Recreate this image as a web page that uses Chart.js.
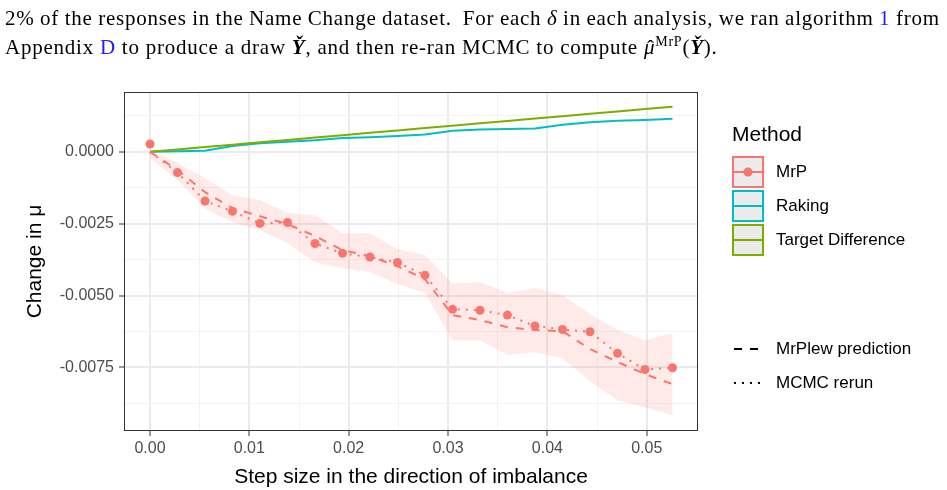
<!DOCTYPE html>
<html>
<head>
<meta charset="utf-8">
<script src="https://cdn.jsdelivr.net/npm/chart.js@4.4.1/dist/chart.umd.min.js"></script>
<style>
  html, body { margin: 0; padding: 0; background: #fff; }
  #wrap { position: relative; width: 947px; height: 490px; overflow: hidden; }
  #chart { position: absolute; left: 0; top: 0; }
  .txt { position: absolute; left: 5px; font-family: "Liberation Serif", serif; font-size: 21px; line-height: 24px; color: #000; white-space: nowrap; }
  .txt sup { font-size: 14px; vertical-align: 8px; line-height: 0; }
  .hat { position: relative; display: inline-block; }
  .hatmark { position: absolute; left: 3px; top: 1px; font-style: normal; }
  .blue { color: #2020ff; }
  .leg { position: absolute; font-family: "Liberation Sans", Arial, sans-serif; color: #000; white-space: nowrap; }
  .legtitle { font-size: 21px; line-height: 24px; }
  .leglabel { font-size: 17px; line-height: 20px; }
  .leg svg { display: block; }
</style>
</head>
<body>
<div id="wrap">
  <canvas id="chart" width="947" height="490"></canvas>
  <div id="l1" class="txt" style="top:6px">2% of the responses in the Name Change dataset.&nbsp; For each <i>δ</i> in each analysis, we ran algorithm <span class="blue">1</span> from</div>
  <div id="l2" class="txt" style="top:35px">Appendix <span class="blue">D</span> to produce a draw <b><i>Y̌</i></b>, and then re-ran MCMC to compute <span class="hat"><i>μ</i><span class="hatmark">ˆ</span></span><sup>MrP</sup>(<b><i>Y̌</i></b>).</div>
  <div id="legend"></div>
</div>
<script>
// step sizes (x) and series values
const stepSize = [0, 0.00277, 0.00554, 0.0083, 0.01107, 0.01384, 0.01661, 0.01938, 0.02214, 0.02491,
                  0.02768, 0.03045, 0.03322, 0.03598, 0.03875, 0.04152, 0.04429, 0.04706, 0.04982, 0.05259];
const mrpPoints = [0.00027, -0.00072, -0.00171, -0.00207, -0.00249, -0.00246, -0.00319, -0.00353, -0.00366, -0.00385,
                   -0.00429, -0.00548, -0.00551, -0.00568, -0.00606, -0.00618, -0.00626, -0.00701, -0.00757, -0.00751];
const mcmcRerun = [0, -0.00072, -0.00171, -0.00207, -0.00249, -0.00246, -0.00319, -0.00353, -0.00366, -0.00385,
                   -0.00429, -0.00548, -0.00551, -0.00568, -0.00606, -0.00618, -0.00626, -0.00701, -0.00757, -0.00751];
const mrplewPrediction = [0, -0.00064, -0.0014, -0.00196, -0.00224, -0.00251, -0.00293, -0.00342, -0.00363, -0.00398,
                          -0.00443, -0.00568, -0.00585, -0.0061, -0.0062, -0.00624, -0.00686, -0.00731, -0.00773, -0.00808];
const bandUpper = [0.00006, -0.00039, -0.00091, -0.00151, -0.00168, -0.00213, -0.0022, -0.00283, -0.00283, -0.00338,
                   -0.00359, -0.00457, -0.00453, -0.00491, -0.00474, -0.00498, -0.00565, -0.0062, -0.00655, -0.00631];
const bandLower = [-0.00022, -0.00098, -0.00196, -0.00245, -0.00272, -0.00318, -0.00384, -0.00405, -0.00418, -0.0046,
                   -0.00491, -0.00655, -0.00655, -0.00707, -0.00697, -0.00718, -0.00798, -0.00864, -0.00888, -0.00916];
const raking = [0, 0.00002, 0.00004, 0.0002, 0.0003, 0.00035, 0.0004, 0.00048, 0.00051, 0.00055,
                0.0006, 0.00073, 0.00078, 0.00079, 0.00081, 0.00094, 0.00103, 0.00108, 0.00111, 0.00115];
const targetDifference = [0, 0.000083, 0.000165, 0.000248, 0.00033, 0.000413, 0.000496, 0.000578, 0.000661, 0.000744,
                          0.000826, 0.000909, 0.000992, 0.001074, 0.001157, 0.00124, 0.001322, 0.001405, 0.001488, 0.00157];

const xMajorTicks = [0, 0.01, 0.02, 0.03, 0.04, 0.05];
const xTickLabels = ['0.00', '0.01', '0.02', '0.03', '0.04', '0.05'];
const xMinorTicks = [0.005, 0.015, 0.025, 0.035, 0.045];
const yMajorTicks = [0, -0.0025, -0.005, -0.0075];
const yTickLabels = ['0.0000', '-0.0025', '-0.0050', '-0.0075'];
const yMinorTicks = [0.00125, -0.00125, -0.00375, -0.00625, -0.00875];

const methodNames = ['MrP', 'Raking', 'Target Difference'];
const lineTypeNames = ['MrPlew prediction', 'MCMC rerun'];

const RED = '#F8766D', CYAN = '#00BFC4', GREEN = '#7CAE00';
const SANS = '"Liberation Sans", Arial, sans-serif';

const pts = ys => stepSize.map((x, i) => ({ x: x, y: ys[i] }));
const majorIndex = (v, list) => list.findIndex(m => Math.abs(m - v) < 1e-9);

// widen the serif text to the typeset widths, and justify the first line
const l1 = document.getElementById('l1');
const l2 = document.getElementById('l2');
const ls = (715 - l2.offsetWidth) / l2.textContent.length;
l1.style.letterSpacing = l2.style.letterSpacing = ls + 'px';
const spaces = (l1.textContent.match(/[ \u00a0]/g) || []).length;
l1.style.wordSpacing = ((935 - l1.offsetWidth) / spaces) + 'px';

const panelBorder = {
  id: 'panelBorder',
  afterDatasetsDraw(chart) {
    const { ctx, chartArea: a } = chart;
    ctx.save();
    ctx.strokeStyle = '#333333';
    ctx.lineWidth = 1;
    ctx.strokeRect(a.left + 0.5, a.top + 0.5, a.right - a.left - 1, a.bottom - a.top - 1);
    ctx.restore();
  }
};

const gridFor = majors => ({
  color: c => majorIndex(c.tick.value, majors) >= 0 ? '#ebebeb' : '#f3f3f3',
  lineWidth: c => majorIndex(c.tick.value, majors) >= 0 ? 2 : 1,
  tickColor: c => majorIndex(c.tick.value, majors) >= 0 ? '#333333' : 'rgba(0,0,0,0)',
  tickWidth: 1,
  tickLength: 5
});

new Chart(document.getElementById('chart'), {
  type: 'line',
  data: {
    datasets: [
      { label: 'MrP', data: pts(mrpPoints), showLine: false, pointRadius: 4.5, pointHoverRadius: 4.5,
        pointBackgroundColor: RED, pointBorderWidth: 0, order: 1 },
      { label: 'MCMC rerun', data: pts(mcmcRerun), borderColor: RED, borderWidth: 2, borderDash: [2, 6],
        pointRadius: 0, order: 2 },
      { label: 'MrPlew prediction', data: pts(mrplewPrediction), borderColor: RED, borderWidth: 2, borderDash: [8, 8],
        pointRadius: 0, order: 3 },
      { label: 'Raking', data: pts(raking), borderColor: CYAN, borderWidth: 2, pointRadius: 0, order: 5 },
      { label: 'Target Difference', data: pts(targetDifference), borderColor: GREEN, borderWidth: 2, pointRadius: 0, order: 4 },
      { label: 'band lower', data: pts(bandLower), borderWidth: 0, pointRadius: 0, fill: '+1',
        backgroundColor: 'rgba(248,118,109,0.15)', order: 6 },
      { label: 'band upper', data: pts(bandUpper), borderWidth: 0, pointRadius: 0, fill: false, order: 7 }
    ]
  },
  options: {
    responsive: false,
    animation: false,
    devicePixelRatio: 1,
    layout: { padding: { left: 0, top: 92, right: 249, bottom: 0 } },
    elements: { line: { tension: 0, borderCapStyle: 'butt' } },
    plugins: { legend: { display: false }, tooltip: { enabled: false } },
    scales: {
      x: {
        type: 'linear', min: -0.002617, max: 0.05516,
        afterBuildTicks: s => { s.ticks = xMinorTicks.concat(xMajorTicks).sort((a, b) => a - b).map(v => ({ value: v })); },
        afterFit: s => { s.height = 59; },
        grid: gridFor(xMajorTicks),
        border: { display: false },
        ticks: {
          autoSkip: false, maxRotation: 0, padding: 3, color: '#4d4d4d', font: { family: SANS, size: 16 },
          callback: v => { const i = majorIndex(v, xMajorTicks); return i >= 0 ? xTickLabels[i] : ''; }
        },
        title: { display: true, text: 'Step size in the direction of imbalance', color: '#000',
                 font: { family: SANS, size: 21, lineHeight: 1 }, padding: { top: 0, bottom: 2 } }
      },
      y: {
        type: 'linear', min: -0.00971, max: 0.00208,
        afterBuildTicks: s => { s.ticks = yMinorTicks.concat(yMajorTicks).sort((a, b) => a - b).map(v => ({ value: v })); },
        afterFit: s => { s.width = 124; },
        grid: gridFor(yMajorTicks),
        border: { display: false },
        ticks: {
          autoSkip: false, padding: 5, color: '#4d4d4d', font: { family: SANS, size: 16 },
          callback: v => { const i = majorIndex(v, yMajorTicks); return i >= 0 ? yTickLabels[i] : ''; }
        },
        title: { display: true, text: 'Change in μ', color: '#000',
                 font: { family: SANS, size: 21, lineHeight: 1 }, padding: { top: 25, bottom: 0 } }
      }
    }
  },
  plugins: [panelBorder]
});

// legend (ggplot style, drawn beside the panel)
const legend = document.getElementById('legend');
const keyColors = [RED, CYAN, GREEN];
let html = '<div class="leg legtitle" style="left:732px;top:122px">Method</div>';
methodNames.forEach((name, i) => {
  const top = 156 + i * 34;
  const dot = i === 0 ? '<circle cx="16" cy="16" r="4.5" fill="' + RED + '"/>' : '';
  html += '<div class="leg" style="left:732px;top:' + top + 'px"><svg width="32" height="32">' +
    '<rect x="1" y="1" width="30" height="30" fill="#ebebeb" stroke="' + keyColors[i] + '" stroke-width="2"/>' +
    '<line x1="2" y1="16" x2="30" y2="16" stroke="' + keyColors[i] + '" stroke-width="2"/>' + dot + '</svg></div>';
  html += '<div class="leg leglabel" style="left:776px;top:' + (top + 6) + 'px">' + name + '</div>';
});
const dashes = ['8,8', '2,6'];
lineTypeNames.forEach((name, i) => {
  const cy = 349 + i * 34;
  html += '<div class="leg" style="left:732px;top:' + (cy - 16) + 'px"><svg width="32" height="32">' +
    '<line x1="2" y1="16" x2="30" y2="16" stroke="#000" stroke-width="2" stroke-dasharray="' + dashes[i] + '"/></svg></div>';
  html += '<div class="leg leglabel" style="left:776px;top:' + (cy - 10) + 'px">' + name + '</div>';
});
legend.innerHTML = html;
</script>
</body>
</html>
